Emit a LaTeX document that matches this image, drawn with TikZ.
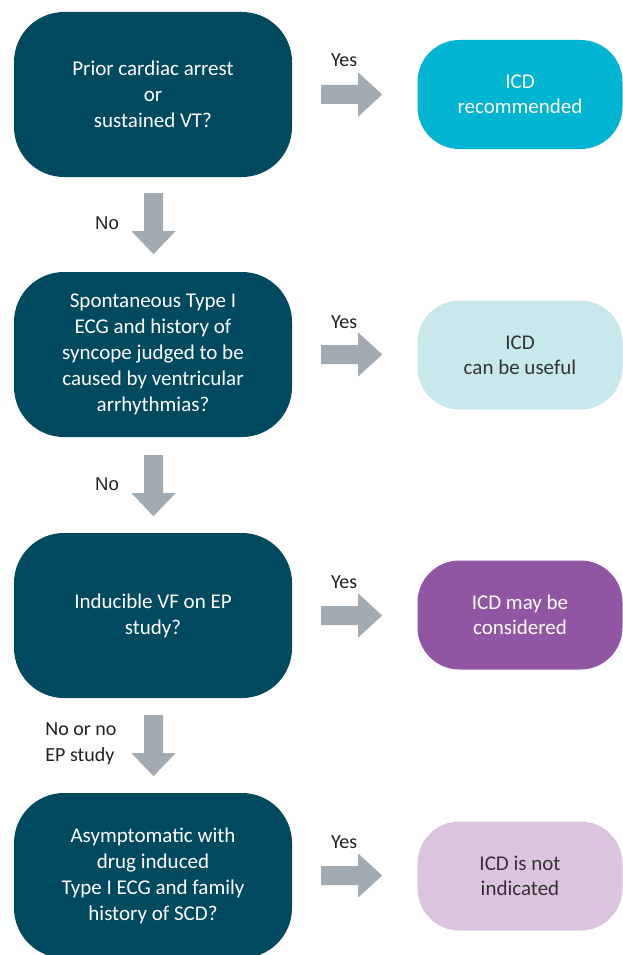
\documentclass[tikz,border=0pt]{standalone}
\usepackage{fontspec}
\setmainfont{Carlito}
\newfontfamily\arialfont{Liberation Sans}
\usetikzlibrary{calc}
\definecolor{darkteal}{HTML}{004A5F}
\definecolor{cyanbox}{HTML}{00B4D2}
\definecolor{lightcyan}{HTML}{C9E8EC}
\definecolor{purplebox}{HTML}{9156A3}
\definecolor{lightpurple}{HTML}{DCC3DF}
\definecolor{arrowgrey}{HTML}{A2AAB2}
\definecolor{labeltext}{HTML}{231F20}
\definecolor{darktext}{HTML}{333333}
\tikzset{
  qbox/.style={rounded corners=50pt, fill=darkteal, text=white, minimum width=278pt, minimum height=165pt, align=center, inner sep=0pt, font=\fontsize{21}{26}\selectfont},
  abox/.style={rounded corners=42pt, minimum width=205pt, minimum height=109pt, align=center, inner sep=0pt, font=\fontsize{21}{25}\selectfont},
  lbl/.style={text=labeltext, inner sep=0pt, font=\fontsize{20}{26}\selectfont},
  blockarrow/.style={fill=arrowgrey}
}
\newcommand\harrowpath[1]{\fill[blockarrow] (#1) ++(0,-9.5) -- ++(37,0) -- ++(0,-12.5) -- ++(24,22) -- ++(-24,22) -- ++(0,-12.5) -- ++(-37,0) -- cycle;}
\newcommand\varrowpath[1]{\fill[blockarrow] (#1) ++(-9.5,0) -- ++(0,38) -- ++(-12.5,0) -- ++(22,23) -- ++(22,-23) -- ++(-12.5,0) -- ++(0,-38) -- cycle;}
\begin{document}
\begin{tikzpicture}[x=1pt,y=-1pt]
\useasboundingbox (0,0) rectangle (623,955);
\clip (0,0) rectangle (623,955);
% questions
\node[qbox] (q1) at (153,94.5) {Prior cardiac arrest\\or\\sustained VT?};
\node[qbox] (q2) at (153,354.5) {Spontaneous Type I\\ECG and history of\\syncope judged to be\\caused by ventricular\\arrhythmias?};
\node[qbox] (q3) at (153,615.5) {Inducible VF on EP\\study?};
\node[qbox] (q4) at (153,875.5) {Asymptomatic with\\drug induced\\Type I ECG and family\\history of SCD?};
% answers
\node[abox, fill=cyanbox, text=white] (a1) at (520,94.5) {ICD\\recommended};
\node[abox, fill=lightcyan, text=darktext] (a2) at (520,355) {ICD\\can be useful};
\node[abox, fill=purplebox, text=white] (a3) at (520,615) {ICD may be\\considered};
\node[abox, fill=lightpurple, text=darktext] (a4) at (520,876) {ICD is not\\indicated};
% horizontal arrows
\coordinate (h1) at ($(q1.east)+(29,0)$);
\coordinate (h2) at ($(q2.east)+(29,0)$);
\coordinate (h3) at ($(q3.east)+(29,0)$);
\coordinate (h4) at ($(q4.east)+(29,0)$);
\harrowpath{h1}
\harrowpath{h2}
\harrowpath{h3}
\harrowpath{h4}
\node[lbl] (y1) at ($(h1)+(23,-34)$) {Yes};
\node[lbl] (y2) at ($(h2)+(23,-32)$) {Yes};
\node[lbl] (y3) at ($(h3)+(23,-33)$) {Yes};
\node[lbl] (y4) at ($(h4)+(23,-33)$) {Yes};
% vertical arrows
\coordinate (v1) at ($(q1.south)+(0.5,16)$);
\coordinate (v2) at ($(q2.south)+(0.5,18)$);
\coordinate (v3) at ($(q3.south)+(0.5,17)$);
\varrowpath{v1}
\varrowpath{v2}
\varrowpath{v3}
\node[lbl, font=\arialfont\fontsize{18.5}{26}\selectfont] (n1) at (107,223) {No};
\node[lbl, font=\arialfont\fontsize{18.5}{26}\selectfont] (n2) at (107,484) {No};
\node[lbl, align=left] (n3) at (81,744) {No or no\\EP study};
\end{tikzpicture}
\end{document}
